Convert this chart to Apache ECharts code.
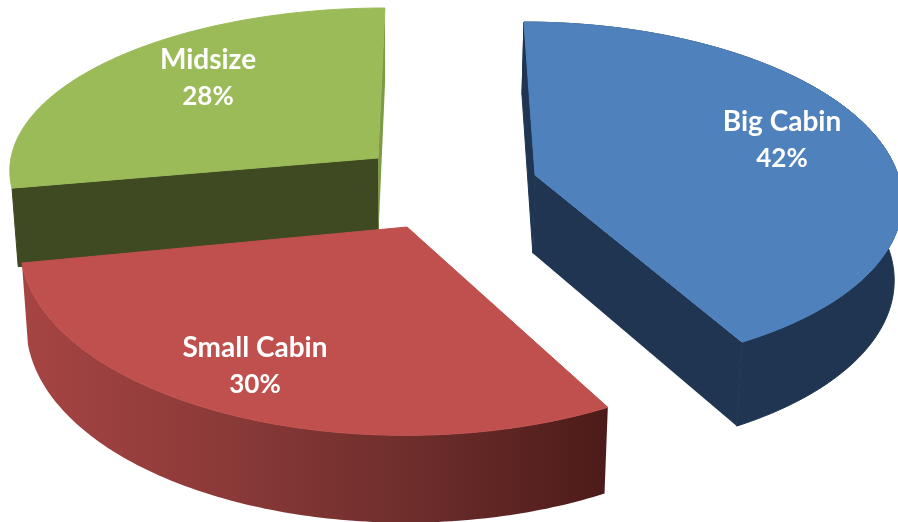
<!DOCTYPE html>
<html>
<head>
<meta charset="utf-8">
<style>html,body{margin:0;padding:0;background:#fff}#c{width:898px;height:522px}</style>
<script src="https://cdn.jsdelivr.net/npm/echarts@6/dist/echarts.min.js"></script>
</head>
<body>
<div id="c"></div>
<script>
// data
const categories = ['Big Cabin', 'Small Cabin', 'Midsize'];
const values = [42, 30, 28];

// styling and the tilted-pie projection of each exploded slice
const apexX = [535, 407, 378];
const apexY = [175, 227, 158];
const radiusX = [363, 385, 367];
const radiusY = [171, 189, 159];
const tilt = [0.118, 0.093, 0.06];
const skew = [0.034, -0.003, -0.02];
const topColors = ['#4F81BD', '#C0504D', '#9BBB59'];
const wallColors = ['#1F3552', '#4C1B19', '#3F4A22'];
const endWallColors = ['#1F3552', '#4C1B19', '#7F9A46'];
const showOuterWall = [true, true, false];
const showRadialWalls = [true, false, true];
const layerOrder = [10, 20, 0];
const labelX = [782, 255, 208];
const labelY = [140, 366, 78];

const total = values.reduce((a, b) => a + b, 0);
const startShare = values.map((_, i) => values.slice(0, i).reduce((a, b) => a + b, 0) / total);

function project(i, angle) {
  const u = Math.sin(angle), v = -Math.cos(angle);
  const w = 1 - tilt[i] * v;
  return [apexX[i] + radiusX[i] * (u + skew[i] * v) / w, apexY[i] + radiusY[i] * v / w];
}
function extrude(p) {
  return [p[0] - (p[0] - 400) * 0.016, p[1] * 1.035 + 72];
}

function renderItem(params, api) {
  const i = params.dataIndex;
  const share = api.value(0) / total;
  const a0 = startShare[i] * 2 * Math.PI, a1 = a0 + share * 2 * Math.PI;
  const arc = [];
  const steps = 120;
  for (let s = 0; s <= steps; s++) arc.push(project(i, a0 + (a1 - a0) * s / steps));
  const apex = [apexX[i], apexY[i]];
  const first = arc[0], last = arc[arc.length - 1];
  const outerWall = arc.concat(arc.slice().reverse().map(extrude));
  const z = layerOrder[i];
  let wallFill = wallColors[i];
  let wallStroke = wallColors[i];
  if (i === 1) {
    wallFill = new echarts.graphic.LinearGradient(25, 0, 608, 0, [
      { offset: 0, color: '#A64443' },
      { offset: 0.35, color: '#8A3A38' },
      { offset: 0.7, color: '#6A2C2A' },
      { offset: 1, color: '#4C1B19' }
    ], true);
    wallStroke = null;
  }
  const poly = (points, fill, stroke, k) => ({
    type: 'polygon', z2: z + k, shape: { points },
    style: { fill, stroke, lineWidth: stroke ? 1 : 0 }
  });
  const children = [];
  if (showOuterWall[i]) children.push(poly(outerWall, wallFill, wallStroke, 0));
  if (showRadialWalls[i]) {
    children.push(poly([apex, first, extrude(first), extrude(apex)], wallColors[i], wallColors[i], 1));
    children.push(poly([apex, last, extrude(last), extrude(apex)], endWallColors[i], null, 2));
  }
  children.push(poly([apex].concat(arc), topColors[i], topColors[i], 3));
  children.push({
    type: 'text', z2: 50,
    x: labelX[i], y: labelY[i],
    style: {
      text: '{n|' + categories[i] + '}\n{p|' + Math.round(share * 100) + '%}',
      fill: '#fff', align: 'center', verticalAlign: 'middle',
      rich: {
        n: { font: 'bold 28px Lato', fill: '#fff', lineHeight: 37, align: 'center' },
        p: { font: 'bold 26px Lato', fill: '#fff', lineHeight: 37, align: 'center' }
      }
    }
  });
  return { type: 'group', children };
}

const chart = echarts.init(document.getElementById('c'));
chart.setOption({
  animation: false,
  backgroundColor: '#fff',
  series: [{
    type: 'custom',
    coordinateSystem: 'none',
    renderItem,
    silent: true,
    clip: false,
    data: values.map(v => [v])
  }]
});
</script>
</body>
</html>
